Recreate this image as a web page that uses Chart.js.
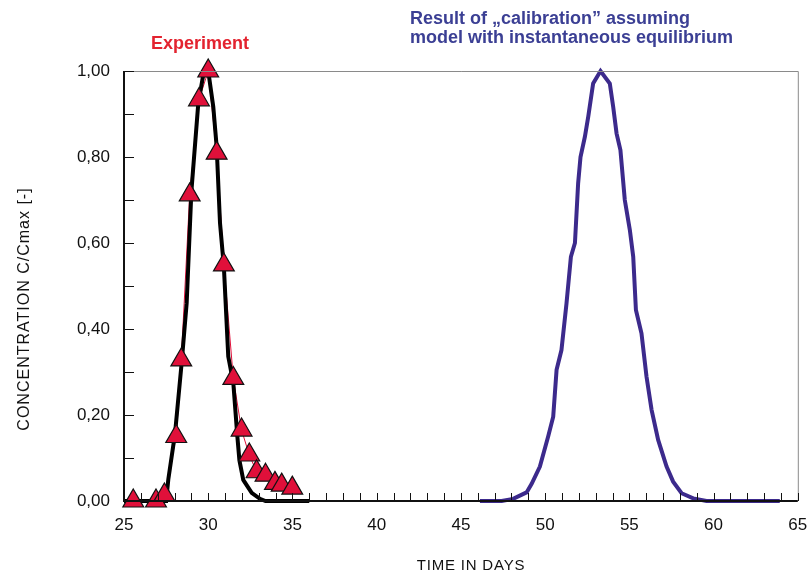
<!DOCTYPE html>
<html>
<head>
<meta charset="utf-8">
<script src="https://cdn.jsdelivr.net/npm/chart.js@4"></script>
<style>
  html, body { margin: 0; padding: 0; background: #fff; }
  #wrap { width: 811px; height: 573px; position: relative; }
</style>
</head>
<body>
<div id="wrap"><canvas id="c"></canvas></div>
<script>
// Tracer breakthrough: measured vs. equilibrium-model curve

// measured points (triangles)
const expDays = [25.55, 26.9, 27.4, 28.1, 28.4, 28.9, 29.45, 30.0, 30.5, 30.93, 31.49, 31.98, 32.44, 32.87, 33.4, 33.96, 34.36, 34.99];
const expConc = [0.0, 0.0, 0.014, 0.15, 0.328, 0.712, 0.933, 1.0, 0.809, 0.549, 0.285, 0.165, 0.107, 0.068, 0.06, 0.041, 0.037, 0.03];

// fitted curve (black)
const fitDays = [25.0, 27.5, 27.63, 28.03, 28.42, 28.72, 29.0, 29.41, 29.7, 30.0, 30.3, 30.5, 30.7, 30.93, 31.19, 31.49, 31.73, 31.85, 32.08, 32.58, 33.07, 33.4, 36.0];
const fitConc = [0.0, 0.0, 0.05, 0.157, 0.32, 0.46, 0.72, 0.925, 0.99, 1.0, 0.917, 0.824, 0.646, 0.544, 0.336, 0.274, 0.15, 0.095, 0.049, 0.019, 0.005, 0.0, 0.0];

// "calibration" with instantaneous equilibrium (purple)
const calDays = [46.13, 47.42, 48.1, 48.9, 49.2, 49.69, 50.18, 50.48, 50.68, 50.97, 51.27, 51.53, 51.77, 51.96, 52.1, 52.36, 52.56, 52.85, 53.29, 53.84, 54.04, 54.24, 54.47, 54.73, 55.03, 55.23, 55.39, 55.72, 56.02, 56.32, 56.71, 57.21, 57.6, 58.1, 58.79, 59.58, 63.93];
const calConc = [0.0, 0.0, 0.005, 0.02, 0.04, 0.08, 0.15, 0.196, 0.305, 0.351, 0.46, 0.568, 0.6, 0.739, 0.8, 0.847, 0.894, 0.971, 1.0, 0.971, 0.917, 0.855, 0.816, 0.70, 0.63, 0.568, 0.444, 0.39, 0.289, 0.212, 0.142, 0.08, 0.045, 0.018, 0.006, 0.0, 0.0];

const xTicks = [25, 30, 35, 40, 45, 50, 55, 60, 65];
const yTicks = [0, 0.2, 0.4, 0.6, 0.8, 1.0];

const FONT = '"Liberation Sans", Arial, sans-serif';
const pts = (xs, ys) => xs.map((x, i) => ({ x: x, y: ys[i] }));

// frame, inward tick marks, axis titles and the two annotations
const framePlugin = {
    id: 'frame',
    afterDatasetsDraw(chart) {
        const { ctx, chartArea: a, scales: { x, y } } = chart;
        ctx.save();
        ctx.strokeStyle = '#8a8a8a';
        ctx.lineWidth = 1;
        ctx.beginPath();
        ctx.moveTo(a.left, a.top + 0.5); ctx.lineTo(a.right + 0.5, a.top + 0.5); ctx.lineTo(a.right + 0.5, a.bottom);
        ctx.stroke();

        ctx.strokeStyle = '#111';
        ctx.lineWidth = 1;
        for (let v = 25; v <= 65; v++) {
            const px = Math.round(x.getPixelForValue(v)) + 0.5;
            ctx.beginPath(); ctx.moveTo(px, a.bottom); ctx.lineTo(px, a.bottom - 8); ctx.stroke();
        }
        for (let k = 0; k <= 10; k++) {
            const py = Math.round(y.getPixelForValue(k / 10)) + 0.5;
            ctx.beginPath(); ctx.moveTo(a.left, py); ctx.lineTo(a.left + 10, py); ctx.stroke();
        }
        ctx.lineWidth = 2;
        ctx.beginPath();
        ctx.moveTo(a.left, a.top); ctx.lineTo(a.left, a.bottom); ctx.lineTo(a.right, a.bottom);
        ctx.stroke();

        // axis titles
        ctx.fillStyle = '#111';
        ctx.textAlign = 'center';
        ctx.textBaseline = 'middle';
        ctx.font = '15px ' + FONT;
        ctx.letterSpacing = '0.8px';
        ctx.fillText('TIME IN DAYS', 471, 566);
        ctx.save();
        ctx.translate(25, 309);
        ctx.rotate(-Math.PI / 2);
        ctx.font = '16px ' + FONT;
        ctx.letterSpacing = '1px';
        ctx.fillText('CONCENTRATION C/Cmax [-]', 0, 0);
        ctx.restore();
        ctx.letterSpacing = '0px';

        ctx.font = 'bold 18px ' + FONT;
        ctx.fillStyle = '#e3232f';
        ctx.textAlign = 'center';
        ctx.fillText('Experiment', 200, 44);
        ctx.fillStyle = '#3b3f94';
        ctx.textAlign = 'left';
        ctx.fillText('Result of \u201Ecalibration\u201D assuming', 410, 19);
        ctx.fillText('model with instantaneous equilibrium', 410, 38);
        ctx.restore();
    }
};

new Chart(document.getElementById('c'), {
    type: 'scatter',
    data: {
        datasets: [
            {
                label: 'Experiment',
                data: pts(expDays, expConc),
                showLine: false,
                pointStyle: 'triangle',
                pointRadius: 12,
                pointBackgroundColor: '#e0103a',
                pointBorderColor: '#111',
                pointBorderWidth: 1.2,
                clip: false,
                order: 1
            },
            {
                label: 'Fit',
                data: pts(fitDays, fitConc),
                showLine: true,
                borderColor: '#000',
                borderWidth: 4,
                pointRadius: 0,
                tension: 0,
                clip: false,
                order: 2
            },
            {
                label: 'Experiment line',
                data: pts(expDays, expConc),
                showLine: true,
                borderColor: '#e0103a',
                borderWidth: 1,
                pointRadius: 0,
                tension: 0,
                order: 3
            },
            {
                label: 'Calibration',
                data: pts(calDays, calConc),
                showLine: true,
                borderColor: '#3c2a8c',
                borderWidth: 4,
                pointRadius: 0,
                tension: 0,
                clip: false,
                order: 4
            }
        ]
    },
    options: {
        responsive: true,
        maintainAspectRatio: false,
        animation: false,
        layout: { padding: { top: 71, right: 13, left: 0, bottom: 0 } },
        plugins: { legend: { display: false }, tooltip: { enabled: false } },
        scales: {
            x: {
                type: 'linear',
                min: 25, max: 65,
                afterBuildTicks: s => { s.ticks = xTicks.map(v => ({ value: v })); },
                afterFit: s => { s.height = 72; s.paddingLeft = 0; s.paddingRight = 0; },
                grid: { display: false, drawTicks: false, tickLength: 0 },
                border: { display: false },
                ticks: { color: '#111', font: { family: FONT, size: 17 }, padding: 14, maxRotation: 0 }
            },
            y: {
                min: 0, max: 1,
                afterBuildTicks: s => { s.ticks = yTicks.map(v => ({ value: v })); },
                afterFit: s => { s.width = 124; s.paddingTop = 0; s.paddingBottom = 0; },
                grid: { display: false, drawTicks: false, tickLength: 0 },
                border: { display: false },
                ticks: {
                    color: '#111', font: { family: FONT, size: 17 }, padding: 14,
                    callback: v => v.toFixed(2).replace('.', ',')
                }
            }
        }
    },
    plugins: [framePlugin]
});
</script>
</body>
</html>
